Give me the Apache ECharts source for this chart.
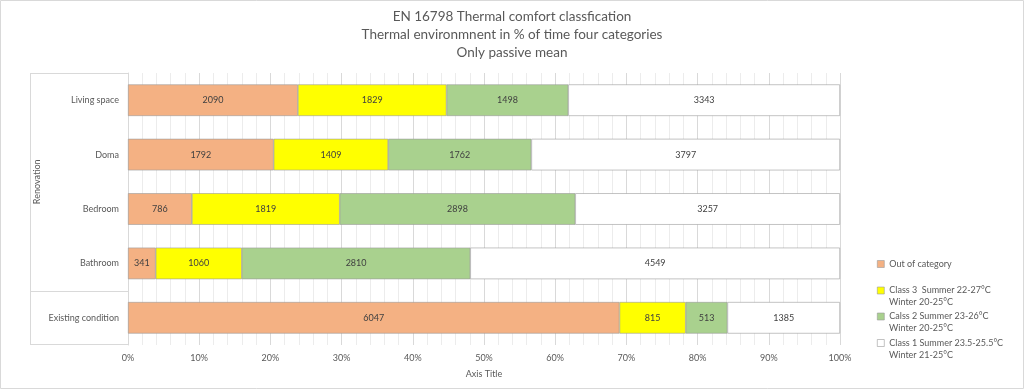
<!DOCTYPE html>
<html>
<head>
<meta charset="utf-8">
<script src="https://cdn.jsdelivr.net/npm/echarts@6/dist/echarts.min.js"></script>
<style>html,body{margin:0;padding:0;background:#fff;}#c{width:1024px;height:389px;}</style>
</head>
<body>
<div id="c"></div>
<script>
const categories = ['Living space', 'Doma', 'Bedroom', 'Bathroom', 'Existing condition'];
const groupLabel = 'Renovation';
const outOfCategory = [2090, 1792, 786, 341, 6047];
const class3 = [1829, 1409, 1819, 1060, 815];
const class2 = [1498, 1762, 2898, 2810, 513];
const class1 = [3343, 3797, 3257, 4549, 1385];
const seriesNames = ['Out of category', 'Class 3  Summer 22-27°C', 'Calss 2 Summer 23-26°C', 'Class 1 Summer 23.5-25.5°C'];
const seriesSubNames = ['', 'Winter 20-25°C', 'Winter 20-25°C', 'Winter 21-25°C'];
const seriesValues = [outOfCategory, class3, class2, class1];
const seriesColors = ['#F4B183', '#FFFF00', '#A9D18E', '#FFFFFF'];
const titleLines = 'EN 16798 Thermal comfort classfication\nThermal environmnent in % of time four categories\nOnly passive mean';

const FONT = 'Lato, "Open Sans", sans-serif';
const totals = categories.map((_, i) => seriesValues.reduce((s, arr) => s + arr[i], 0));

const chart = echarts.init(document.getElementById('c'), null, {renderer: 'canvas'});

const series = seriesValues.map((arr, si) => ({
  name: seriesNames[si],
  type: 'bar',
  stack: 'total',
  barWidth: '58%',
  data: arr.map((v, i) => v / totals[i] * 100),
  itemStyle: {color: seriesColors[si], borderColor: '#9a9a9a', borderWidth: 0.6},
  label: {
    show: true, position: 'inside', color: '#404040', fontSize: 9, fontFamily: FONT,
    formatter: p => String(arr[p.dataIndex])
  },
  emphasis: {disabled: true}
}));

const LH = 12;
const LEG_LEFT = 877;
const iconCenters = [264, 290.5, 316.5, 343];
const legends = seriesNames.map((n, i) => ({
  left: LEG_LEFT, top: iconCenters[i] - LH / 2, padding: 0, orient: 'vertical',
  itemWidth: 7, itemHeight: 7, icon: 'rect',
  data: [{name: n, itemStyle: {borderColor: '#9a9a9a', borderWidth: 0.6}}],
  textStyle: {color: '#595959', fontSize: 9, fontFamily: FONT, lineHeight: LH}
}));

chart.setOption({
  animation: false,
  title: {
    text: titleLines, left: 'center', top: 8, padding: 0,
    textStyle: {color: '#595959', fontSize: 13.5, fontWeight: 'normal', fontFamily: FONT, lineHeight: 18}
  },
  legend: legends,
  grid: {left: 128, right: 184, top: 73, bottom: 44, containLabel: false},
  xAxis: {
    type: 'value', min: 0, max: 100, interval: 10,
    name: 'Axis Title', nameLocation: 'middle', nameGap: 25,
    nameTextStyle: {color: '#595959', fontSize: 9, fontFamily: FONT},
    axisLine: {show: false}, axisTick: {show: false},
    axisLabel: {formatter: '{value}%', color: '#595959', fontSize: 9, fontFamily: FONT, margin: 9},
    splitLine: {show: true, lineStyle: {color: '#d9d9d9', width: 1}},
    minorTick: {show: false, splitNumber: 5},
    minorSplitLine: {show: true, lineStyle: {color: '#ececec', width: 1}}
  },
  yAxis: {
    type: 'category', data: categories, inverse: true,
    axisLine: {show: true, lineStyle: {color: '#d9d9d9'}},
    axisTick: {show: false},
    axisLabel: {color: '#595959', fontSize: 9, fontFamily: FONT, margin: 9}
  },
  series: series
});

// multi-level category axis decoration, computed from the axis scale
const c0 = chart.convertToPixel({yAxisIndex: 0}, categories[0]);
const c1 = chart.convertToPixel({yAxisIndex: 0}, categories[1]);
const band = c1 - c0;
const topY = c0 - band / 2;
const groupEnd = chart.convertToPixel({yAxisIndex: 0}, categories[3]) + band / 2;
const bottomY = topY + band * categories.length;
const axisX = chart.convertToPixel({xAxisIndex: 0}, 0);
const outerX = 30;
const lineStyle = {stroke: '#d9d9d9', lineWidth: 1};
const graphics = [
  {type: 'rect', shape: {x: 0.5, y: 0.5, width: 1023, height: 388}, style: {fill: null, stroke: '#d9d9d9', lineWidth: 1}, silent: true},
  {type: 'line', shape: {x1: outerX, y1: Math.round(topY) + 0.5, x2: axisX, y2: Math.round(topY) + 0.5}, style: lineStyle, silent: true},
  {type: 'line', shape: {x1: outerX, y1: Math.round(groupEnd) + 0.5, x2: axisX, y2: Math.round(groupEnd) + 0.5}, style: lineStyle, silent: true},
  {type: 'line', shape: {x1: outerX, y1: Math.round(bottomY) - 0.5, x2: axisX, y2: Math.round(bottomY) - 0.5}, style: lineStyle, silent: true},
  {type: 'line', shape: {x1: outerX + 0.5, y1: topY, x2: outerX + 0.5, y2: bottomY}, style: lineStyle, silent: true},
  {type: 'text', x: 37, y: (topY + groupEnd) / 2, rotation: Math.PI / 2,
    style: {text: groupLabel, fill: '#595959', fontSize: 9, fontFamily: FONT, align: 'center', verticalAlign: 'middle'}, silent: true}
];
seriesSubNames.forEach((s, i) => {
  if (!s) return;
  graphics.push({type: 'text', x: LEG_LEFT + 7 + 5, y: iconCenters[i] + LH,
    style: {text: s, fill: '#595959', fontSize: 9, fontFamily: FONT, align: 'left', verticalAlign: 'middle'}, silent: true});
});
chart.setOption({graphic: graphics});
</script>
</body>
</html>
